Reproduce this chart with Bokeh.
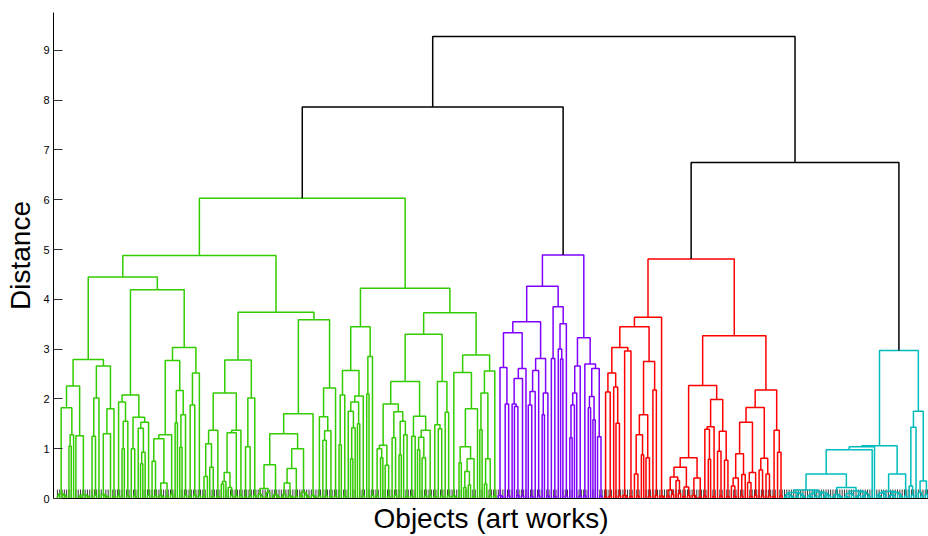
from bokeh.plotting import figure
from bokeh.models import FixedTicker, ColumnDataSource, Range1d
from bokeh.embed import file_html
from bokeh.resources import INLINE

# ---------------- data: merge heights of the dendrogram (node = (height, left, right), leaf = 0)
root_height = 9.28          # merge of the two big groups
left_group_height = 7.86    # green + purple
right_group_height = 6.75   # red + cyan

green_a1a = (2.26,
             (1.82,
              (0.09, (0.05, 0, 0), (0.07, 0, (0.04, 0, 0))),
              (1.28, (1.05, 0, 0), 0)),
             (1.26, 0, (0.07, (0.03, 0, (0.02, 0, 0)), (0.05, 0, (0.03, 0, 0)))))
green_a1b = (2.66,
             (2.02, (1.25, 0, (0.06, 0, 0)), 0),
             (1.80, (1.30, (0.08, 0, (0.05, 0, (0.03, 0, 0))), 0), (0.04, 0, 0)))
green_a2a = (2.08,
             (1.94, (0.05, 0, 0), (1.55, (1.00, 0, 0), (0.05, 0, 0))),
             (1.63, (1.00, 0, (0.05, 0, 0)),
              (1.53, (1.41, 0, (0.93, (0.70, 0, 0), 0)), (0.06, 0, 0))))
green_a2b = (3.03,
             (2.77,
              (1.28, (1.20, (0.75, 0, (0.05, 0, 0)), (0.31, (0.06, 0, (0.03, 0, 0)), (0.04, 0, 0))),
               (0.08, 0, 0)),
              (2.17, (1.52, 0, 0), (1.68, (1.03, 0, 0), (0.06, 0, 0)))),
             (2.52, (1.88, (0.04, 0, 0), (0.07, 0, 0)), (0.05, 0, 0)))
green_b1 = (2.78,
            (2.12,
             (1.37, (1.10, (0.44, (0.05, 0, 0), 0), (0.63, 0, (0.04, 0, 0))), (0.04, 0, 0)),
             (1.37, (1.32, (0.52, (0.34, (0.29, 0, 0), 0), (0.22, 0, (0.06, 0, 0))), (0.05, 0, 0)),
              (0.06, 0, 0))),
            (2.02, (1.04, (0.03, 0, 0), (0.05, 0, 0)), (0.06, 0, 0)))
green_b2 = (3.59,
            (1.70,
             (1.30,
              (0.68, (0.20, (0.08, 0, (0.04, 0, 0)), (0.12, (0.03, 0, 0), 0)),
               (0.07, (0.02, 0, 0), (0.04, 0, 0))),
              (1.00, (0.60, (0.31, (0.08, (0.03, 0, 0), 0), (0.05, 0, (0.03, 0, 0))), (0.04, 0, 0)),
               (0.12, (0.05, 0, 0), (0.07, 0, (0.03, 0, 0))))),
             (0.06, 0, (0.03, 0, 0))),
            (2.22, (1.64, (0.05, 0, 0), (1.36, (1.17, 0, (0.05, 0, 0)), (0.04, 0, 0))), (0.04, 0, 0)))
green_c1 = (3.45,
            (2.57,
             (2.08, (1.08, 0, 0), (0.05, 0, 0)),
             (2.06, (1.94, (1.75, 0, (1.42, (0.80, 0, 0), 0)), (1.50, 0, 0)), (0.05, 0, 0))),
            (2.85, (2.10, 0, 0), (0.06, 0, 0)))
green_c2a = (3.30,
             (2.35,
              (1.90,
               (1.07, (1.00, (0.05, 0, 0), (0.82, 0, 0)), (0.67, 0, (0.04, 0, 0))),
               (1.74, (1.22, 0, (0.06, 0, 0)), (1.55, (0.88, 0, 0), (1.28, 0, (0.04, 0, 0))))),
              (1.65,
               (1.25, (0.05, 0, 0), 0),
               (1.37, (1.23, (0.98, 0, 0), (0.82, 0, (0.05, 0, 0))), (0.06, 0, 0)))),
             (2.35, (1.48, (0.04, 0, 0), (1.40, 0, (0.05, 0, 0))), (1.73, 0, (0.05, 0, 0))))
green_c2b = (2.88,
             (2.53, (0.05, 0, (0.03, 0, 0)),
              (1.80, (1.04, (0.72, 0, 0), (0.80, (0.54, (0.22, 0, 0), (0.27, 0, 0)), (0.04, 0, 0))), 0)),
             (2.56, (2.12, (1.38, 0, 0), (0.80, (0.29, 0, 0), (0.05, 0, 0))), (0.05, 0, 0)))
green_tree = (6.03,
              (4.88,
               (4.45, (2.79, green_a1a, green_a1b), (4.19, green_a2a, green_a2b)),
               (3.74, green_b1, green_b2)),
              (4.22, green_c1, (3.73, green_c2a, green_c2b)))

purple_tree = (4.89,
               (4.26,
                (3.55,
                 (3.33,
                  (2.63, (0.06, 0, (0.04, 0, 0)), (1.90, 0, (0.05, 0, 0))),
                  (2.61, (2.41, (1.90, 0, (1.85, 0, (0.06, 0, 0))), (0.05, 0, 0)), 0)),
                 (2.81,
                  (2.57, (2.15, (1.88, 0, (0.04, 0, 0)), 0), (0.05, 0, 0)),
                  (2.12, (1.68, 0, 0), (0.05, 0, 0)))),
                (3.85,
                 (2.81, 0, (0.04, 0, 0)),
                 (3.51, (3.00, 0, (2.80, 0, 0)), (0.05, 0, 0)))),
               (3.23,
                (2.66, (2.12, (1.88, (1.22, 0, 0), 0), 0), (0.05, 0, 0)),
                (2.70, (0.05, 0, 0),
                 (2.61, (2.05, (1.82, 0, 0), (1.58, 0, 0)), (1.24, 0, (0.05, 0, 0))))))

red_tree = (4.81,
            (3.64,
             (3.45,
              (3.03,
               (2.52, (2.14, (0.03, 0, 0), (0.05, 0, 0)), (2.24, 0, (1.51, 0, (0.05, 0, 0)))),
               (2.96, (0.06, 0, (0.03, 0, 0)), (0.04, 0, 0))),
              (2.75,
               (1.68, (1.28, (0.49, 0, (0.05, 0, 0)), (0.88, 0, 0)), (0.82, 0, (0.04, 0, 0))),
               (2.18, 0, (0.06, 0, 0)))),
             (0.05, 0, (0.03, 0, 0))),
            (3.27,
             (2.27,
              (0.82,
               (0.63,
                (0.43, (0.17, (0.05, 0, 0), (0.08, 0, 0)), (0.36, 0, (0.10, 0, 0))),
                (0.23, (0.04, 0, 0), (0.06, 0, 0))),
               (0.41, (0.06, 0, (0.02, 0, 0)), (0.03, 0, 0))),
              (1.99,
               (1.44, (1.39, (0.05, 0, 0), (0.79, 0, 0)), (0.04, 0, 0)),
               (1.35, (0.95, 0, (0.05, 0, 0)), (0.77, 0, (0.04, 0, 0))))),
             (2.18,
              (1.83,
               (1.53,
                (0.90, (0.41, (0.25, 0, (0.04, 0, 0)), 0), (0.48, (0.05, 0, 0), 0)),
                (0.52, (0.32, 0, (0.04, 0, 0)), (0.06, 0, 0))),
               (0.81, (0.57, 0, (0.05, 0, 0)), (0.49, 0, (0.05, 0, 0)))),
              (1.37, (0.04, 0, 0), (0.93, 0, (0.05, 0, 0))))))

cyan_tree = (2.97,
             (1.06,
              (1.04,
               (0.98,
                (0.49,
                 (0.17,
                  (0.12, (0.08, (0.03, 0, 0), (0.05, 0, (0.02, 0, 0))),
                   (0.10, (0.04, 0, 0), (0.06, 0, (0.02, 0, 0)))),
                  (0.13, (0.09, (0.05, 0, (0.03, 0, 0)), (0.04, 0, 0)),
                   (0.11, (0.06, 0, 0), (0.07, (0.03, 0, 0), (0.05, 0, 0))))),
                 (0.22,
                  (0.08, (0.03, 0, 0), (0.05, 0, (0.02, 0, 0))),
                  (0.15, (0.10, (0.04, 0, (0.02, 0, 0)), (0.07, 0, 0)),
                   (0.13, (0.06, (0.03, 0, 0), 0), (0.09, (0.05, 0, 0), (0.04, 0, 0)))))),
                0),
               0),
              (0.49,
               (0.14, (0.11, (0.06, 0, (0.03, 0, 0)), (0.08, 0, 0)),
                (0.12, (0.07, (0.02, 0, 0), (0.05, 0, 0)), (0.09, 0, (0.04, 0, 0)))),
               (0.05, 0, 0))),
             (1.75,
              (1.43, (0.25, 0, (0.07, 0, 0)), 0),
              (0.35, (0.12, 0, (0.05, 0, 0)), (0.08, 0, 0))))

cluster_colors = ["#33cc00", "#8000ff", "#ff0000", "#00bcbc"]
link_color = "#000000"
y_ticks = [0, 1, 2, 3, 4, 5, 6, 7, 8, 9]

# ---------------- layout of the tree
xs, ys, cols = [], [], []
leaf_x = []


def place(node, color):
    if not isinstance(node, tuple):
        x = float(len(leaf_x))
        leaf_x.append(x)
        return x, 0.0
    h, a, b = node
    xa, ha = place(a, color)
    xb, hb = place(b, color)
    xs.append([xa, xa, xb, xb])
    ys.append([ha, h, h, hb])
    cols.append(color)
    return (xa + xb) / 2.0, h


def link(pa, pb, h):
    (xa, ha), (xb, hb) = pa, pb
    xs.append([xa, xa, xb, xb])
    ys.append([ha, h, h, hb])
    cols.append(link_color)
    return (xa + xb) / 2.0, h


g = place(green_tree, cluster_colors[0])
pu = place(purple_tree, cluster_colors[1])
r = place(red_tree, cluster_colors[2])
c = place(cyan_tree, cluster_colors[3])
left = link(g, pu, left_group_height)
right = link(r, c, right_group_height)
link(left, right, root_height)

n_leaves = len(leaf_x)

p = figure(width=928, height=536, output_backend="svg", toolbar_location=None,
           x_range=Range1d(-1.7, n_leaves - 0.6), y_range=Range1d(0, 9.76),
           min_border_left=53, min_border_right=0, min_border_top=12, min_border_bottom=35)
p.outline_line_color = None
p.xgrid.visible = False
p.ygrid.visible = False
p.background_fill_color = "white"
p.border_fill_color = "white"

# leaf ticks along the bottom
p.segment(x0=leaf_x, y0=[0] * n_leaves, x1=leaf_x, y1=[0.18] * n_leaves,
          line_color="#333333", line_width=1)

src = ColumnDataSource(dict(xs=xs, ys=ys, color=cols))
p.multi_line(xs="xs", ys="ys", line_color="color", line_width=1.5, source=src)

# axes
p.yaxis.ticker = FixedTicker(ticks=y_ticks)
p.yaxis.minor_tick_line_color = None
p.yaxis.major_tick_in = 9
p.yaxis.major_tick_out = 0
p.yaxis.major_tick_line_color = "#333333"
p.yaxis.axis_line_color = "black"
p.yaxis.major_label_text_font = "Liberation Sans"
p.yaxis.major_label_text_font_size = "11px"
p.yaxis.major_label_text_color = "black"
p.yaxis.major_label_standoff = 4
p.yaxis.axis_label = "Distance"
p.yaxis.axis_label_text_font = "Liberation Sans"
p.yaxis.axis_label_text_font_size = "28px"
p.yaxis.axis_label_text_font_style = "normal"
p.yaxis.axis_label_text_color = "black"
p.yaxis.axis_label_standoff = 4

p.xaxis.ticker = FixedTicker(ticks=[])
p.xaxis.minor_tick_line_color = None
p.xaxis.major_tick_line_color = None
p.xaxis.axis_line_color = "black"
p.xaxis.axis_label = "Objects (art works)"
p.xaxis.axis_label_text_font = "Liberation Sans"
p.xaxis.axis_label_text_font_size = "28px"
p.xaxis.axis_label_text_font_style = "normal"
p.xaxis.axis_label_text_color = "black"
p.xaxis.axis_label_standoff = 4

open("out.html", "w").write(file_html(p, INLINE))
